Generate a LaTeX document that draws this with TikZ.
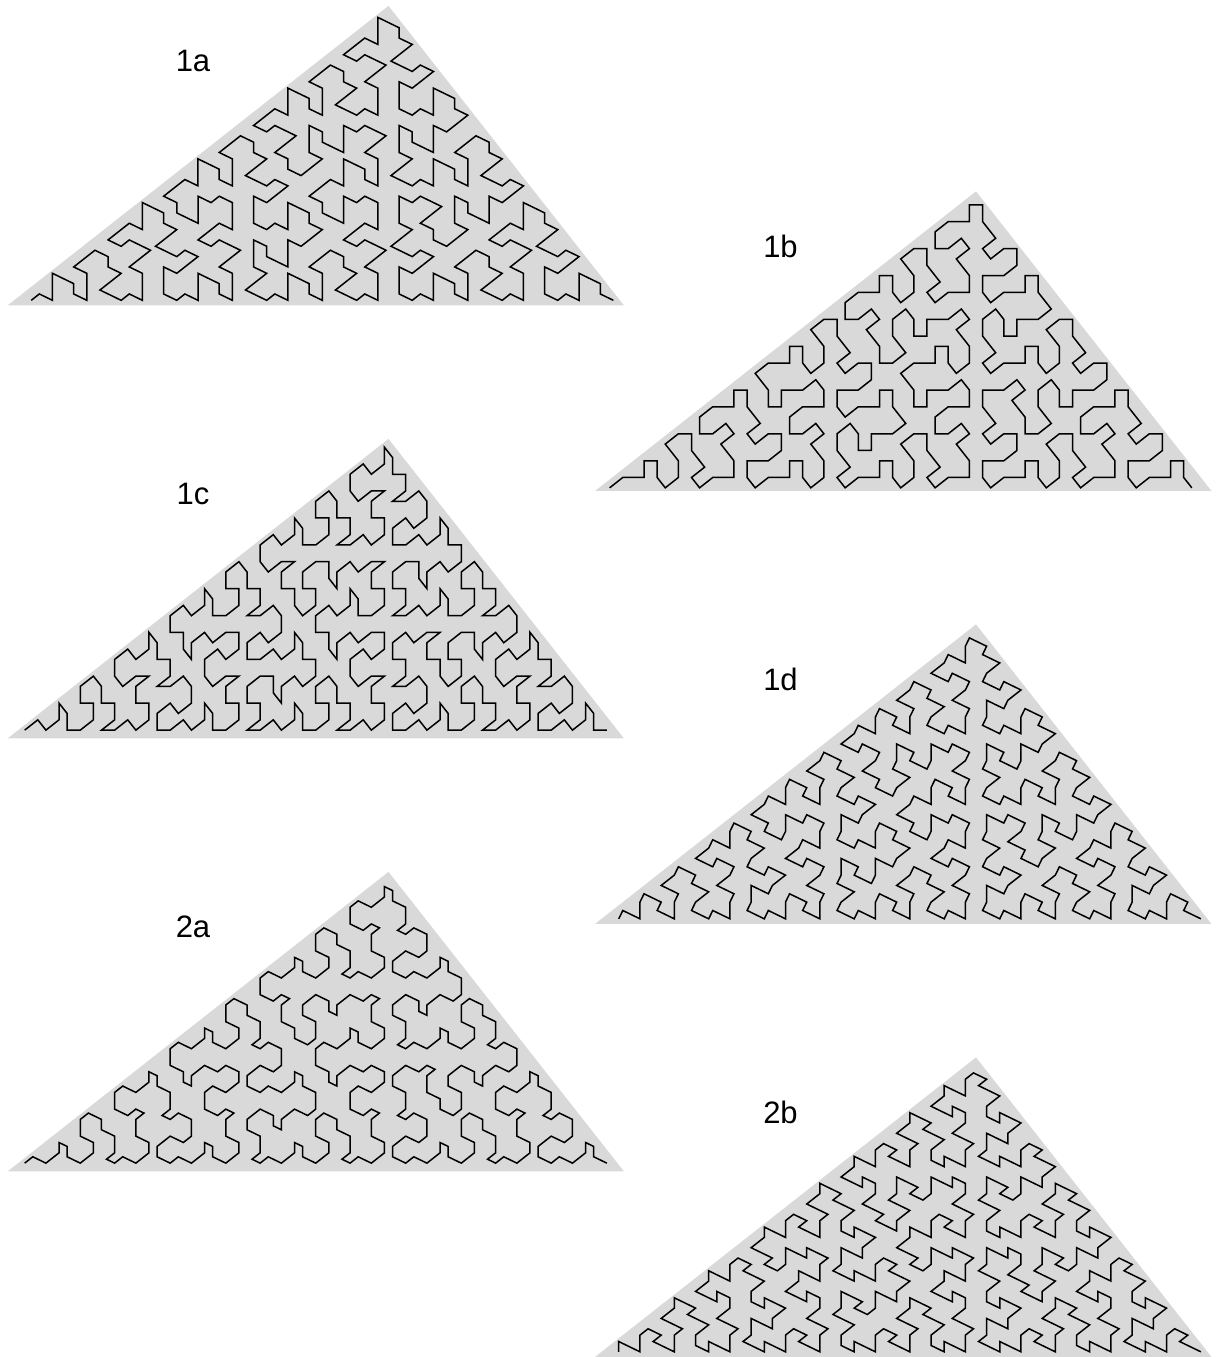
\documentclass[tikz,border=0pt]{standalone}
\usepackage{fontspec}
\setmainfont{Liberation Sans}
\definecolor{kepgrey}{HTML}{D9D9D9}
\tikzset{
  keptile/.style={fill=kepgrey,draw=none},
  kepline/.style={draw=black,line width=0.75pt},
  keplabel/.style={font=\fontsize{15.5}{18}\selectfont,inner sep=0pt},
}
\newcommand{\kepfill}[7]{%
\begingroup
\ifnum#1<12
  \pgfmathsetmacro\dx{#2+0.618034*(#4-#2)}%
  \pgfmathsetmacro\dy{#3+0.618034*(#5-#3)}%
  \pgfmathtruncatemacro\lone{#1+1}%
  \pgfmathtruncatemacro\ltwo{#1+2}%
  \edef\tmp{\noexpand\kepfill{\lone}{#2}{#3}{#6}{#7}{\dx}{\dy}\noexpand\kepfill{\ltwo}{#6}{#7}{#4}{#5}{\dx}{\dy}}%
  \tmp
\else
  \ifnum#1=12
    \pgfmathsetmacro\px{\ua*#2+\ub*#4+(1-\ua-\ub)*#6}%
    \pgfmathsetmacro\py{\ua*#3+\ub*#5+(1-\ua-\ub)*#7}%
  \else
    \pgfmathsetmacro\px{\va*#2+\vb*#4+(1-\va-\vb)*#6}%
    \pgfmathsetmacro\py{\va*#3+\vb*#5+(1-\va-\vb)*#7}%
  \fi
  \xdef\kepcurve{\kepcurve\kepjoin(\px,\py)}%
  \gdef\kepjoin{--}%
\fi
\endgroup}
\begin{document}
\begin{tikzpicture}[x=0.5pt,y=0.5pt]
\useasboundingbox (0,0) rectangle (1221,1357);
\foreach \nm/\sx/\sy/\ua/\ub/\va/\vb in {
  1a/7.5/1051.5/0.190983/0.5/0.5/0.309017,
  1b/595/866/0.5/0.309017/0.309017/0.190983,
  1c/7.5/618.5/0.309017/0.190983/0.190983/0.5,
  1d/595/433/0.190983/0.5/0.309017/0.190983,
  2a/7.5/185.5/0.309017/0.190983/0.190983/0.118034,
  2b/595/0/0.190983/0.5/0.118034/0.072949}{
  \begin{scope}[shift={(\sx,\sy)}]
  \fill[keptile] (0,0) -- (616.5,0) -- (381,299.6) -- cycle;
  \gdef\kepcurve{}\gdef\kepjoin{}%
  \kepfill{0}{0}{0}{616.5}{0}{381}{299.6}%
  \draw[kepline] \kepcurve;
  \node[keplabel] (lab\nm) at (185.5,244.5) {\nm};
  \end{scope}
}
\end{tikzpicture}
\end{document}
